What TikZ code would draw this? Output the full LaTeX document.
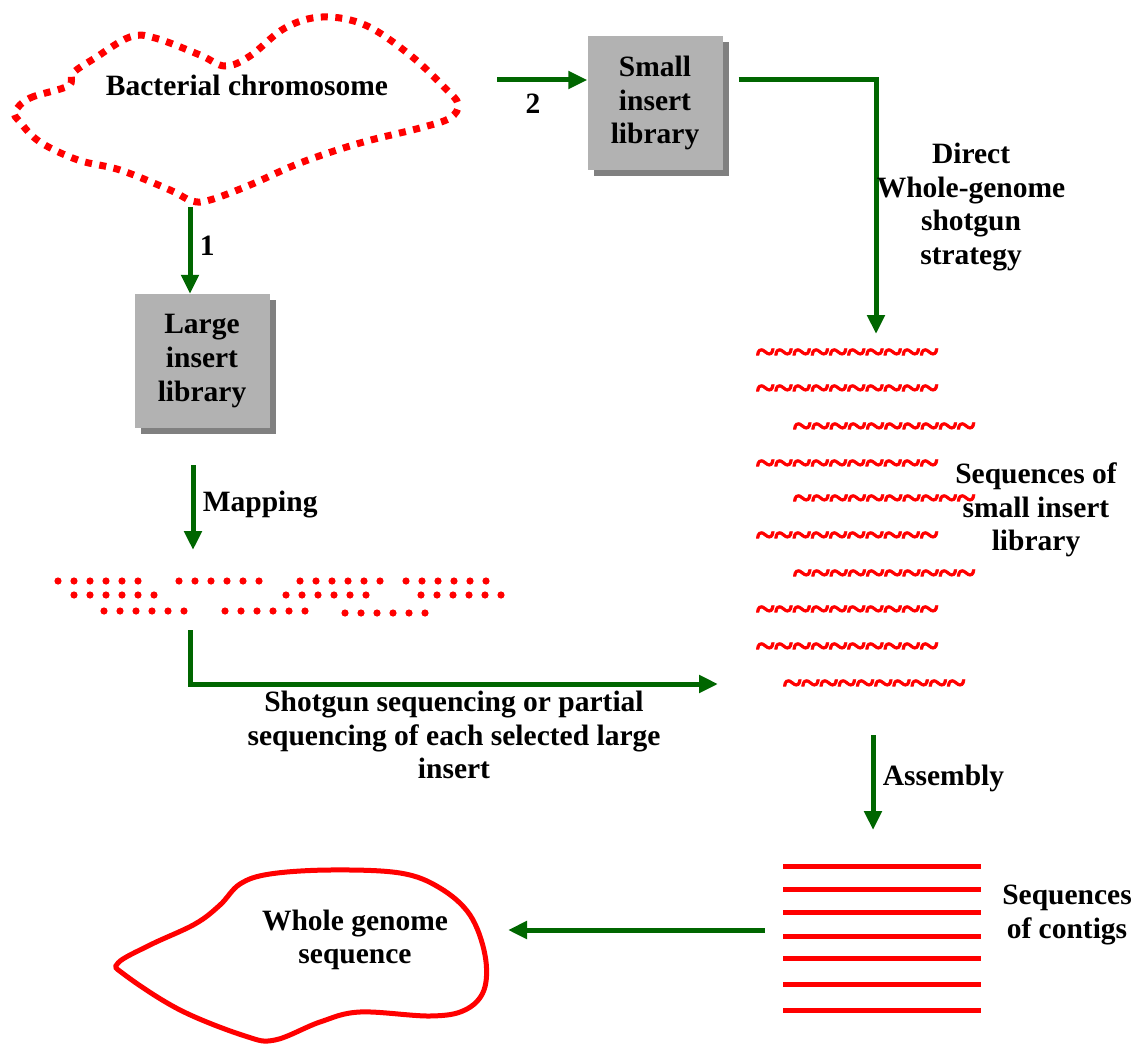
\documentclass[tikz,border=0pt]{standalone}
\usepackage{fontspec}
\setmainfont{Liberation Serif}
\newfontfamily\readfont[FakeBold=2]{Liberation Serif}
\usetikzlibrary{positioning,arrows.meta,shadows}
\definecolor{flowgreen}{RGB}{0,102,0}
\definecolor{libgray}{RGB}{178,178,178}
\definecolor{libshadow}{RGB}{128,128,128}
\newcommand\wavyread{\textasciitilde\textasciitilde\textasciitilde\textasciitilde\textasciitilde\textasciitilde\textasciitilde\textasciitilde\textasciitilde\textasciitilde}

\begin{document}
\begin{tikzpicture}[x=1pt,y=-1pt,
  lib/.style={rectangle,fill=libgray,minimum width=135pt,minimum height=134pt,inner sep=0pt,
              align=center,font=\fontsize{29.5}{33.7}\selectfont\bfseries,
              drop shadow={shadow xshift=6pt,shadow yshift=-6pt,fill=libshadow,opacity=1}},
  lbl/.style={align=center,text=black,font=\fontsize{29.5}{33.7}\selectfont\bfseries},
  flow/.style={-{Triangle[length=19pt,width=17pt]},flowgreen,line width=5pt},
  readrow/.style={text=red,inner sep=0pt,anchor=west,font=\fontsize{35}{35}\selectfont\readfont\bfseries},
  contig/.style={red,line width=5pt}
]
\useasboundingbox (0,0) rectangle (1136,1046);

% bacterial chromosome
\draw[red,line width=7pt,dash pattern=on 7pt off 7.5pt]
  plot[smooth cycle,tension=0.6] coordinates {(15,112) (30,98) (68,86) (73,73) (95,58) (130,37) (155,38)
  (200,55) (225,66) (250,56) (285,28) (322,17) (365,25) (410,55) (445,88) (458,104) (450,118) (420,128)
  (360,143) (300,163) (250,185) (210,200) (192,201) (170,190) (120,170) (78,160) (40,142) (20,122)};
\node[lbl] (chrom) at (247,85) {Bacterial chromosome};
\coordinate (chrom-s) at (190,207);
\coordinate (chrom-e) at (497,80);

% libraries
\node[lib] (large) at (202,361) {Large\\insert\\library};
\node[lib] (small) at (655,103) {Small\\insert\\library};
\draw[flow] (chrom-s) -- node[lbl,right=4pt,yshift=5pt] {1} (chrom-s |- large.north);
\draw[flow] (chrom-e) -- node[lbl,below=8pt,pos=0.4] {2} (chrom-e -| small.west);

% small insert reads
\foreach \y/\x [count=\i] in {356/756,392/756,430/793,467/756,502/793,539/756,577/793,613/756,650/756,687/783}
  \node[readrow] (read\i) at (\x,\y) {\wavyread};
\node[lbl] (readlbl) at (1036,510) {Sequences of\\small insert\\library};
\coordinate (reads-in) at (876,334);
\draw[flow] ([xshift=16pt]small.east |- chrom-e) -| node[lbl,right,pos=0.75,xshift=-5pt] {Direct\\Whole-genome\\shotgun\\strategy} (reads-in);

% mapped large inserts
\coordinate (map-s) at (193,465);
\coordinate (map-e) at (193,550);
\draw[flow] (map-s) -- node[lbl,right=4pt,yshift=3pt] {Mapping} (map-e);
\foreach \x/\y in {58/581,179/581,300/581,406/581,74/595,286/595,421/595,104/611,225/611,345/613}
  \foreach \k in {0,...,5}
    \fill[red] (\x+16*\k,\y) circle (3.6pt);
\coordinate (shot-s) at (190,630);
\coordinate (reads-w) at (718,684);
\draw[flow] (shot-s) |- node[lbl,below=1pt,pos=0.75]
  {Shotgun sequencing or partial\\sequencing of each selected large\\insert} (reads-w);

% assembly
\coordinate (asm-s) at (873,735);
\coordinate (asm-e) at (873,830);
\draw[flow] (asm-s) -- node[lbl,right=4pt,yshift=4pt] {Assembly} (asm-e);
\foreach \y [count=\i] in {866,889,912,936,958,984,1010}
  \draw[contig] (783,\y) coordinate (contig\i) -- ++(198,0);
\node[lbl] (contiglbl) at (1067,915) {Sequences\\of contigs};

% whole genome
\draw[red,line width=5pt]
  plot[smooth cycle,tension=0.6] coordinates {(118,963) (150,945) (195,924) (220,905) (240,884) (270,874)
  (330,870) (400,873) (440,888) (470,915) (485,955) (484,990) (465,1010) (430,1016) (360,1012) (320,1022)
  (275,1040) (245,1036) (180,1010) (125,975)};
\node[lbl] (genome) at (355,940) {Whole genome\\sequence};
\coordinate (join-s) at (765,930);
\coordinate (genome-e) at (508,930);
\draw[flow] (join-s) -- (genome-e);
\end{tikzpicture}
\end{document}
